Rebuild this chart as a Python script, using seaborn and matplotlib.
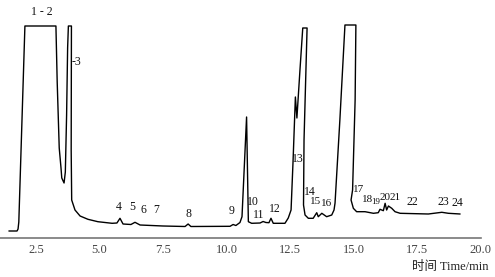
import numpy as np
import matplotlib
matplotlib.use("Agg")
import matplotlib.pyplot as plt
import seaborn as sns

# chromatogram trace (time in min, detector response in arbitrary units)
time = [1.44, 1.76, 1.80, 1.83, 2.07, 3.29, 3.34, 3.42, 3.49, 3.52, 3.61, 3.66, 3.71, 3.75, 3.78,
        3.90, 3.89, 3.91, 4.04, 4.24, 4.55, 4.94, 5.50, 5.69, 5.81, 5.93, 6.24, 6.40, 6.60, 7.50,
        8.37, 8.49, 8.60, 10.14, 10.26, 10.37, 10.53, 10.61, 10.79, 10.86, 10.99, 11.32, 11.44, 11.55,
        11.67, 11.75, 11.84, 12.30, 12.43, 12.54, 12.62, 12.71, 12.77, 12.89, 13.00, 13.17, 13.05,
        13.03, 13.09, 13.22, 13.41, 13.55, 13.61, 13.75, 13.94, 14.14, 14.23, 14.27, 14.46, 14.66,
        15.09, 15.06, 14.96, 14.90, 14.99, 15.12, 15.45, 15.78, 15.97, 16.04, 16.17, 16.24, 16.30,
        16.37, 16.50, 16.63, 16.83, 17.94, 18.47, 18.73, 19.19]
response = [7, 7, 9, 16, 212, 212, 156, 90, 70, 60, 55, 66, 123, 190, 212,
            212, 88, 38, 28, 22, 18.7, 16.3, 14.7, 15, 19.7, 14, 13.5, 15.7, 13, 12,
            11.5, 14, 11.5, 11.7, 13.5, 12.5, 15.5, 21.3, 121, 16.3, 14.7, 15, 16.5, 15.5,
            15.3, 19.7, 14.7, 14.7, 20, 28, 78, 141, 120, 168, 210, 210, 98,
            33, 23, 19.7, 19.7, 25.3, 21.3, 24.7, 21.3, 23, 28, 35, 118, 213,
            213, 138, 48, 38, 29.7, 26.3, 26.3, 24.7, 25.3, 28.7, 27.3, 34.7, 28,
            32, 29.7, 26.3, 24.7, 24, 25.7, 24.7, 24]

# peak labels and where they sit
peak_names = ["1 - 2", "-3", "4", "5", "6", "7", "8", "9", "10", "11", "12", "13", "14", "15",
              "16", "17", "18", "19", "20", "21", "22", "23", "24"]
peak_t = [2.74, 4.08, 5.77, 6.28, 6.72, 7.23, 8.49, 10.20, 11.04, 11.26, 11.91, 12.81, 13.28,
          13.50, 13.93, 15.19, 15.53, 15.87, 16.23, 16.63, 17.30, 18.52, 19.07]
peak_y = [226, 176, 31, 31, 28, 28, 24, 27.5, 36, 23, 29.5, 79.5, 46, 36, 35, 48, 38, 36, 41,
          40, 36, 36, 35]
cluster = ["15", "16", "17", "18", "20", "21"]

x_ticks = [2.5, 5.0, 7.5, 10.0, 12.5, 15.0, 17.5, 20.0]

sns.set_style("white")
plt.rcParams['font.family'] = ['Liberation Serif', 'Noto Sans CJK SC', 'DejaVu Sans']

fig = plt.figure(figsize=(4.95, 2.77), dpi=100)
ax = fig.add_axes([0, 39 / 277, 480.7 / 495, 215 / 277])

sns.lineplot(x=time, y=response, sort=False, estimator=None, color='black',
             linewidth=1.0, ax=ax)

for name, t, y in zip(peak_names, peak_t, peak_y):
    size = 8.5
    if name in cluster:
        size = 8
    if name == "19":
        size = 6.5
    ax.text(t, y, name, ha='center', va='center', fontsize=size, color='#111111', clip_on=False)

ax.set_xlim(1.09, 20.0)
ax.set_ylim(0, 215)
ax.set_xticks(x_ticks)
ax.set_xticklabels([f"{v:.1f}" for v in x_ticks])
ax.set_yticks([])
ax.set_ylabel("")
for s in ['left', 'top', 'right']:
    ax.spines[s].set_visible(False)
ax.spines['bottom'].set_color('#777777')
ax.spines['bottom'].set_linewidth(1.2)
ax.tick_params(axis='x', direction='in', length=3, width=1, color='#777777',
               labelsize=9, labelcolor='#444444', pad=4)

ax.set_xlabel("时间 Time/min", fontsize=9, color='#222222', ha='right', va='center')
ax.xaxis.set_label_coords(489 / 480.7, (238 - 267) / 215)

fig.savefig("out.png", dpi=100)
